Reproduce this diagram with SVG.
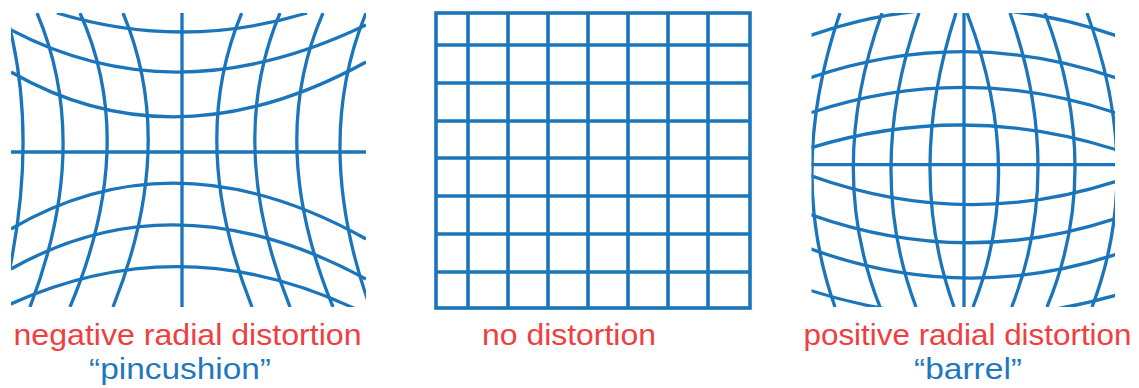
<svg xmlns="http://www.w3.org/2000/svg" width="1139" height="388" viewBox="0 0 1139 388">
  <style>
    .g { fill: none; stroke: #1b75bb; stroke-width: 3.3; }
    .m { fill: none; stroke: #1b75bb; stroke-width: 3.6; }
    .red { fill: #ee4040; font-family: "Liberation Sans", Arial, sans-serif; font-size: 30px; }
    .blue { fill: #1f78be; font-family: "Liberation Sans", Arial, sans-serif; font-size: 30px; }
  </style>
  <defs>
    <clipPath id="clipL"><rect x="11" y="13" width="355" height="294"/></clipPath>
    <clipPath id="clipR"><rect x="811.5" y="13" width="303.5" height="294"/></clipPath>
  </defs>
  <rect width="1139" height="388" fill="#ffffff"/>

  <g id="pincushion" clip-path="url(#clipL)">
    <g class="g">
      <path d="M57,13 Q182,51 307,13"/>
      <path d="M11,30 Q175.5,116.5 366,25"/>
      <path d="M11,72 Q175.5,166.4 366,62"/>
      <path d="M11,152 L366,152"/>
      <path d="M11,229 Q175.5,132.6 366,239"/>
      <path d="M11,269 Q175.5,176 366,279"/>
      <path d="M0,309 Q181,221.9 366,314"/>
      <path d="M60,320 Q184,297.2 300,320"/>
      <path d="M182,13 L182,307"/>
      <path d="M123,13 Q178,144 113,307"/>
      <path d="M241.7,13 Q187.2,144 252,307"/>
      <path d="M80,13 Q139,144 70,307"/>
      <path d="M280,13 Q225,144 290,307"/>
      <path d="M37,13 Q92.5,144 30,307"/>
      <path d="M323,13 Q266,144 333,307"/>
      <path d="M6,13 Q42.5,144 1,307"/>
      <path d="M366,13 Q312,144 370,307"/>
    </g>
  </g>

  <g id="no-distortion" class="m">
    <rect x="436" y="13" width="314" height="295"/>
    <path d="M468,13 V308 M508,13 V308 M548,13 V308 M588,13 V308 M628,13 V308 M668,13 V308 M708,13 V308"/>
    <path d="M436,45 H750 M436,83 H750 M436,121 H750 M436,158 H750 M436,196 H750 M436,234 H750 M436,272 H750"/>
  </g>

  <g id="barrel" clip-path="url(#clipR)">
    <g class="g">
      <path d="M809,36 Q963,-18.4 1117,36"/>
      <path d="M809,78.3 Q963,25.1 1117,78.3"/>
      <path d="M809,113.3 Q963,61.3 1117,113.3"/>
      <path d="M809,148.3 Q963,100.85 1117,150"/>
      <path d="M809,164.7 L1117,164.7"/>
      <path d="M809,175 Q963,231 1117,181"/>
      <path d="M809,214 Q963,269.4 1117,218"/>
      <path d="M809,248.3 Q963,304.85 1117,254"/>
      <path d="M809,290 Q963,339.5 1117,295"/>
      <path d="M964,13 L964,307"/>
      <path d="M956,13 Q905,170 954,307"/>
      <path d="M967,13 Q1027,170 973,307"/>
      <path d="M919,13 Q864.5,170 916,307"/>
      <path d="M1010,13 Q1065.15,170 1011.7,307"/>
      <path d="M882,13 Q825.6,170 880,307"/>
      <path d="M1045,13 Q1104,170 1047,307"/>
      <path d="M840,13 Q786.5,170 835,307"/>
      <path d="M1087,13 Q1144.5,170 1092,307"/>
    </g>
  </g>

  <g id="label-pincushion" text-anchor="middle">
    <text class="red" x="187.5" y="345" textLength="348" lengthAdjust="spacingAndGlyphs">negative radial distortion</text>
    <text class="blue" x="180" y="379" textLength="182" lengthAdjust="spacingAndGlyphs">“pincushion”</text>
  </g>
  <g id="label-none" text-anchor="middle">
    <text class="red" x="569" y="345" textLength="174" lengthAdjust="spacingAndGlyphs">no distortion</text>
  </g>
  <g id="label-barrel" text-anchor="middle">
    <text class="red" x="967.5" y="345" textLength="328" lengthAdjust="spacingAndGlyphs">positive radial distortion</text>
    <text class="blue" x="968" y="379" textLength="108" lengthAdjust="spacingAndGlyphs">“barrel”</text>
  </g>
</svg>
